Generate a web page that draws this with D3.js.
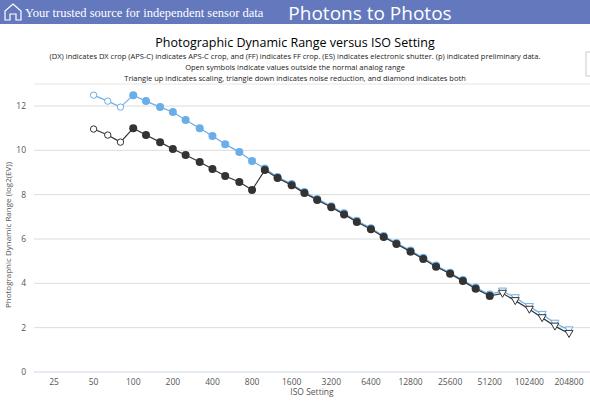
<!DOCTYPE html>
<html><head><meta charset="utf-8">
<script src="https://cdn.jsdelivr.net/npm/d3@7"></script>
<style>body{margin:0;background:#fff;font-family:"Open Sans",sans-serif;}</style>
</head><body><svg width="590" height="407"></svg>
<script>
// ISO setting (1/3 stops) and photographic dynamic range
var isoBlue = [50,64,80,100,125,160,200,250,320,400,500,640,800,1000,1250,1600,2000,2500,3200,4000,5000,6400,8000,10000,12800,16000,20000,25600,32000,40000,51200,64000,80000,102400,128000,160000,204800];
var pdrBlue = [12.49,12.22,11.95,12.49,12.22,11.95,11.73,11.37,11.0,10.65,10.28,9.92,9.52,9.18,8.8,8.48,8.12,7.81,7.48,7.16,6.82,6.49,6.14,5.82,5.48,5.15,4.8,4.48,4.15,3.81,3.5,3.65,3.35,2.95,2.6,2.2,1.9];
var pdrBlack = [10.96,10.69,10.37,11.0,10.69,10.37,10.06,9.79,9.47,9.16,8.84,8.57,8.21,9.11,8.75,8.43,8.07,7.76,7.43,7.11,6.77,6.44,6.09,5.77,5.43,5.10,4.75,4.43,4.10,3.76,3.43,3.55,3.22,2.83,2.45,2.07,1.74];
var xTicks = [25,50,100,200,400,800,1600,3200,6400,12800,25600,51200,102400,204800];
var yTicks = [0,2,4,6,8,10,12];

var svg = d3.select("svg");
svg.append("rect").attr("width",590).attr("height",24).attr("fill","#6478bd");
svg.append("path").attr("d","M5,20 L5,11 L13,4 L21,11 L21,20 L16,20 L16,14 L10,14 L10,20 Z").attr("fill","none").attr("stroke","#fff").attr("stroke-width",1.2);
svg.append("text").attr("x",25).attr("y",17).attr("fill","#fff").attr("font-family","Liberation Serif, serif").attr("font-size",12.5).text("Your trusted source for independent sensor data");
svg.append("text").attr("x",370).attr("y",20).attr("text-anchor","middle").attr("fill","#fff").attr("font-size",19).text("Photons to Photos");

svg.append("text").attr("x",295).attr("y",47).attr("text-anchor","middle").attr("font-size",12.5).text("Photographic Dynamic Range versus ISO Setting");
var subs = ["(DX) indicates DX crop (APS-C) indicates APS-C crop, and (FF) indicates FF crop. (ES) indicates electronic shutter. (p) indicated preliminary data.",
  "Open symbols indicate values outside the normal analog range",
  "Triangle up indicates scaling, triangle down indicates noise reduction, and diamond indicates both"];
subs.forEach(function(s,i){
  svg.append("text").attr("x",295).attr("y",59+i*11).attr("text-anchor","middle").attr("font-size",7.5).attr("fill","#222").text(s);
});
svg.append("rect").attr("x",586).attr("y",52).attr("width",8).attr("height",24).attr("fill","#fff").attr("stroke","#ccc");

var x = d3.scaleLog().base(2).domain([25,204800]).range([54,569]);
var y = d3.scaleLinear().domain([0,12]).range([372,106]);

svg.append("line").attr("x1",34).attr("x2",590).attr("y1",84).attr("y2",84).attr("stroke","#e6e6e6");
svg.append("g").selectAll("line").data(yTicks).enter().append("line")
  .attr("x1",34).attr("x2",590).attr("y1",function(d){return y(d);}).attr("y2",function(d){return y(d);})
  .attr("stroke",function(d){return d==0?"#ccd6eb":"#dcdcdc";});
svg.append("g").selectAll("text").data(yTicks).enter().append("text")
  .attr("x",26).attr("y",function(d){return y(d)+3;}).attr("text-anchor","end").attr("font-size",8.5).attr("fill","#555").text(function(d){return d;});
svg.append("g").selectAll("text").data(xTicks).enter().append("text")
  .attr("x",function(d){return x(d);}).attr("y",385).attr("text-anchor","middle").attr("font-size",8.5).attr("fill","#555").text(function(d){return d;});
svg.append("text").attr("x",312).attr("y",395).attr("text-anchor","middle").attr("font-size",8.5).attr("fill","#555").text("ISO Setting");
svg.append("text").attr("transform","translate(11,235) rotate(-90)").attr("text-anchor","middle").attr("font-size",8).attr("fill","#555").text("Photographic Dynamic Range (log2(EV))");

function series(vals,color){
  var data = isoBlue.map(function(d,i){return {iso:d,v:vals[i],open:i<3,tri:d>=64000};});
  var line = d3.line().x(function(d){return x(d.iso);}).y(function(d){return y(d.v);});
  svg.append("path").datum(data).attr("d",line).attr("fill","none").attr("stroke",color).attr("stroke-width",1.2);
  var g = svg.append("g");
  data.forEach(function(d){
    if(d.tri){
      g.append("path").attr("transform","translate("+x(d.iso)+","+y(d.v)+")").attr("d","M-4,-3 L4,-3 L0,4 Z").attr("fill","#fff").attr("stroke",color);
    } else {
      g.append("circle").attr("cx",x(d.iso)).attr("cy",y(d.v)).attr("r",d.open?3.2:4)
        .attr("fill",d.open?"#fff":color).attr("stroke",d.open?color:"none");
    }
  });
}
series(pdrBlue,"#6aaee8");
series(pdrBlack,"#333");
</script></body></html>
